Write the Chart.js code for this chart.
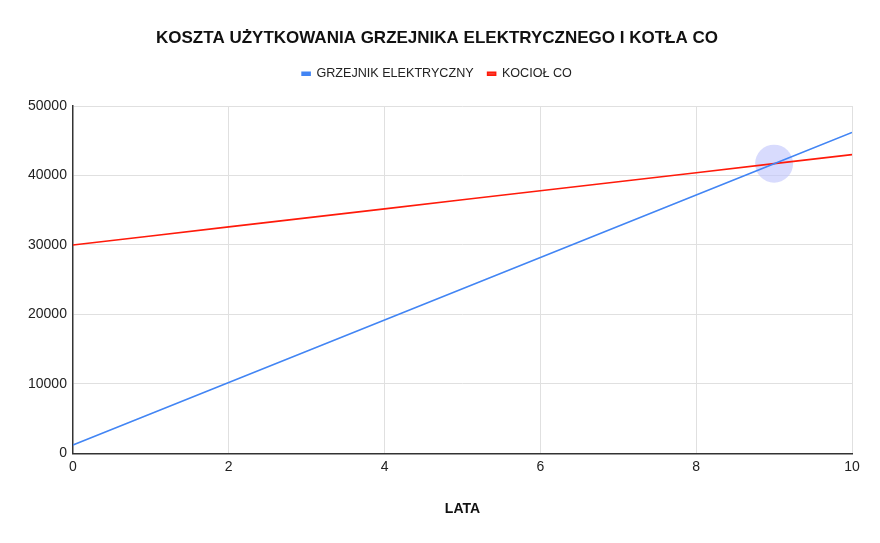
<!DOCTYPE html>
<html>
<head>
<meta charset="utf-8">
<script src="https://cdn.jsdelivr.net/npm/chart.js@4/dist/chart.umd.min.js"></script>
<style>
html,body{margin:0;padding:0;background:#fff;}
#wrap{width:880px;height:543px;}
</style>
</head>
<body>
<div id="wrap"><canvas id="c" width="880" height="543"></canvas></div>
<script>
const years = [0,1,2,3,4,5,6,7,8,9,10];
const grzejnik = [1200,5700,10200,14700,19200,23700,28200,32700,37200,41700,46200];
const kociol = [30000,31300,32600,33900,35200,36500,37800,39100,40400,41700,43000];
const crossing = [{x:9, y:41700}];
const yTicks = [0,10000,20000,30000,40000,50000];
const xTicks = [0,2,4,6,8,10];

const font = "'Liberation Sans', Arial, sans-serif";
Chart.defaults.font.family = font;
Chart.defaults.color = '#222';

const legendSpace = {
  id: 'legendSpace',
  beforeInit(chart) {
    const orig = chart.legend.fit;
    chart.legend.fit = function () { orig.call(this); this.height += 16; };
  }
};

new Chart(document.getElementById('c'), {
  type: 'line',
  plugins: [legendSpace],
  data: {
    datasets: [
      {
        label: 'GRZEJNIK ELEKTRYCZNY',
        data: years.map((x,i)=>({x, y: grzejnik[i]})),
        borderColor: '#4285F4',
        backgroundColor: '#4285F4',
        borderWidth: 1.6,
        pointRadius: 0,
        tension: 0
      },
      {
        label: 'KOCIOŁ CO',
        data: years.map((x,i)=>({x, y: kociol[i]})),
        borderColor: '#ff1a0a',
        backgroundColor: '#f44336',
        borderWidth: 1.6,
        pointRadius: 0,
        tension: 0
      },
      {
        label: 'highlight',
        data: crossing,
        showLine: false,
        pointRadius: 19,
        pointHoverRadius: 19,
        pointBackgroundColor: 'rgba(190,195,252,0.6)',
        pointBorderWidth: 0,
        borderColor: 'rgba(0,0,0,0)',
        backgroundColor: 'rgba(190,195,252,0.6)'
      }
    ]
  },
  options: {
    responsive: false,
    animation: false,
    layout: { padding: { left: 22, right: 28, top: 12, bottom: 25 } },
    plugins: {
      title: {
        display: true,
        text: 'KOSZTA UŻYTKOWANIA GRZEJNIKA ELEKTRYCZNEGO I KOTŁA CO',
        font: { size: 17, weight: 'bold', family: font },
        color: '#111',
        padding: { top: 16, bottom: 5 }
      },
      legend: {
        display: true,
        labels: {
          filter: item => item.text !== 'highlight',
          boxWidth: 8,
          boxHeight: 3,
          font: { size: 12.6, family: font },
          color: '#222',
          padding: 14
        }
      },
      tooltip: { enabled: false }
    },
    scales: {
      x: {
        type: 'linear',
        min: 0, max: 10,
        afterBuildTicks: s => { s.ticks = xTicks.map(v=>({value:v})); },
        ticks: { font: { size: 14 }, color: '#222', padding: 5 },
        grid: { color: '#e0e0e0', drawTicks: false },
        border: { color: '#333', width: 1.5 },
        title: {
          display: true,
          text: 'LATA',
          font: { size: 14, weight: 'bold' },
          color: '#111',
          padding: { top: 21, bottom: 0 }
        }
      },
      y: {
        min: 0, max: 50000,
        afterBuildTicks: s => { s.ticks = yTicks.map(v=>({value:v})); },
        ticks: { font: { size: 14 }, color: '#222', padding: 6, callback: v => String(v) },
        grid: { color: '#e0e0e0', drawTicks: false },
        border: { color: '#333', width: 1.5 }
      }
    }
  }
});
</script>
</body>
</html>
